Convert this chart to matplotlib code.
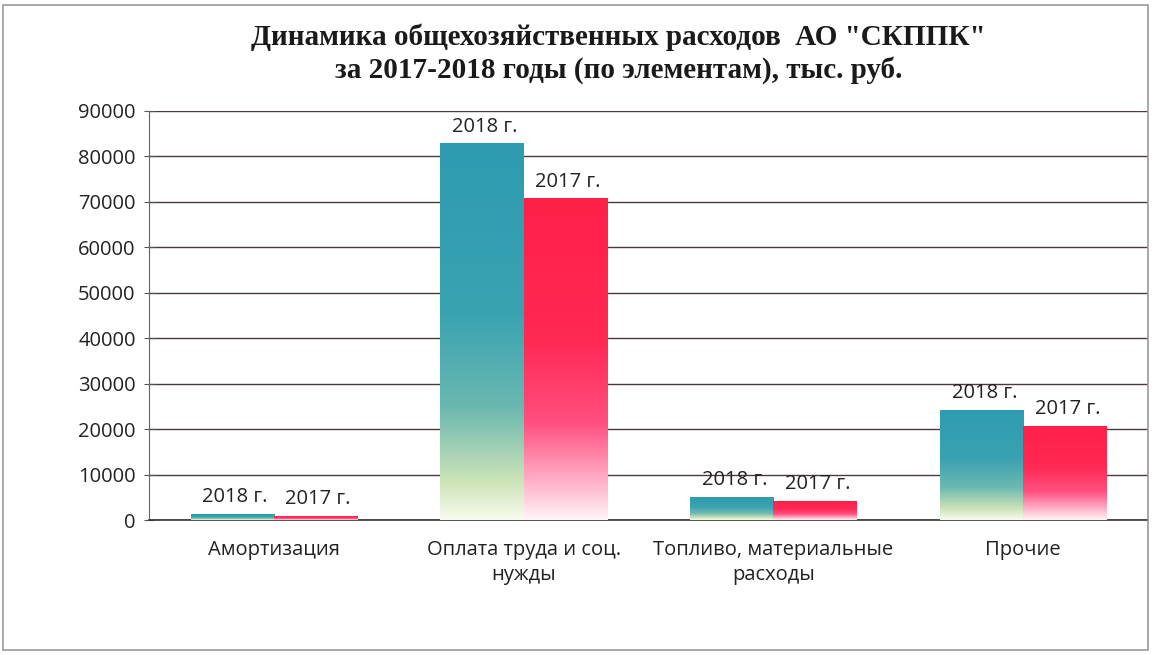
import matplotlib
matplotlib.use("Agg")
import matplotlib.pyplot as plt
from matplotlib.colors import LinearSegmentedColormap
from matplotlib.patches import Rectangle
import numpy as np

# Данные (тыс. руб.)
categories = ["Амортизация", "Оплата труда и соц.\nнужды",
              "Топливо, материальные\nрасходы", "Прочие"]
values_2018 = [1300, 82800, 5100, 24200]
values_2017 = [900, 70700, 4300, 20700]
series_labels = ["2018 г.", "2017 г."]
y_ticks = [0, 10000, 20000, 30000, 40000, 50000, 60000, 70000, 80000, 90000]

fig = plt.figure(figsize=(11.54, 6.55), dpi=100)
ax = fig.add_axes([0.129, 0.206, 0.866, 0.625])

teal = LinearSegmentedColormap.from_list(
    "teal", [(0, "#f8fbef"), (0.1, "#cde4b8"), (0.3, "#6ab8b0"), (0.55, "#3aa3b2"), (1, "#2e9bb0")])
red = LinearSegmentedColormap.from_list(
    "red", [(0, "#fff5f8"), (0.12, "#ffb0c8"), (0.3, "#ff5080"), (0.55, "#ff2a55"), (1, "#ff2048")])

x = np.arange(len(categories))
w = 0.333
grad = np.linspace(0, 1, 256).reshape(-1, 1)
fnt = "Open Sans"

def gradient_bars(xs, vals, cmap, lab):
    bars = ax.bar(xs, vals, width=w, color="none", edgecolor="none", zorder=3)
    for b in bars:
        bx, bw, bh = b.get_x(), b.get_width(), b.get_height()
        im = ax.imshow(grad, extent=[bx, bx + bw, 0, bh], origin="lower",
                       aspect="auto", cmap=cmap, zorder=3)
        im.set_clip_path(b)
        ax.annotate(lab, (bx + bw / 2, bh), xytext=(2, 5), textcoords="offset points",
                    ha="center", va="bottom", fontsize=14.5, family=fnt,
                    color="#222222", zorder=5)

gradient_bars(x - w / 2, values_2018, teal, series_labels[0])
gradient_bars(x + w / 2, values_2017, red, series_labels[1])

ax.set_xlim(-0.5, len(categories) - 0.5)
ax.set_ylim(0, 90000)
ax.set_yticks(y_ticks)
ax.set_yticklabels([str(v) for v in y_ticks], fontsize=14.5, family=fnt, color="#222222")
ax.set_xticks(x)
ax.set_xticklabels(categories, fontsize=14.5, family=fnt, color="#222222", linespacing=1.35)
ax.tick_params(axis="x", length=0, pad=14)
ax.tick_params(axis="y", direction="inout", length=7, color="#555555", pad=6)
ax.grid(axis="y", color="#4a3c3c", linewidth=1.0, zorder=0)
ax.set_axisbelow(True)
for s in ["top", "right"]:
    ax.spines[s].set_visible(False)
ax.spines["left"].set_color("#666666")
ax.spines["bottom"].set_color("#333333")
ax.spines["bottom"].set_linewidth(1.2)

fig.text(0.536, 0.918, "Динамика общехозяйственных расходов  АО \"СКППК\"\n"
         "за 2017-2018 годы (по элементам), тыс. руб.",
         ha="center", va="center", fontsize=21, fontweight="bold",
         family="Liberation Serif", color="#1a1a1a", linespacing=1.2)

fig.patches.append(Rectangle((0.003, 0.008), 0.992, 0.985, transform=fig.transFigure,
                             fill=False, edgecolor="#9a9a9a", linewidth=1.2))

fig.savefig("out.png", dpi=100)
